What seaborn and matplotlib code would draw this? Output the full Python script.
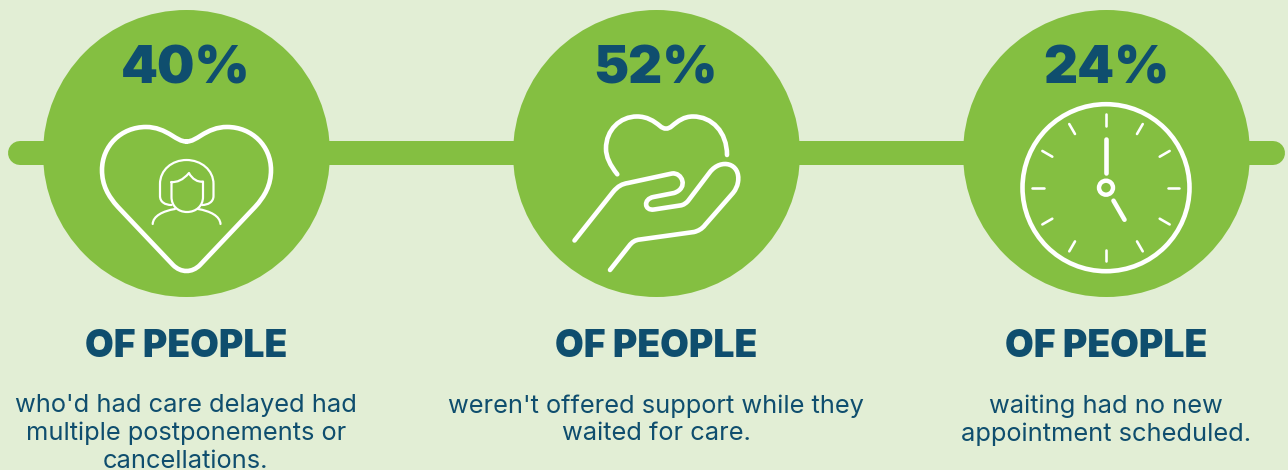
import numpy as np
import pandas as pd
import seaborn as sns
import matplotlib.pyplot as plt
from matplotlib.path import Path
from matplotlib.patches import PathPatch, Circle

percents = [40, 52, 24]
headings = ["OF PEOPLE", "OF PEOPLE", "OF PEOPLE"]
captions = [
    "who'd had care delayed had\nmultiple postponements or\ncancellations.",
    "weren't offered support while they\nwaited for care.",
    "waiting had no new\nappointment scheduled.",
]

GREEN = "#84BF41"
BG = "#E2EED5"
NAVY = "#0F4E6E"
PX = 0.72  # one pixel in points at dpi 100

centers = [186, 656, 1106]
mid_y = 153

sns.set_theme(style="white")
plt.rcParams["font.family"] = ["Inter", "DejaVu Sans"]

fig = plt.figure(figsize=(12.88, 4.7), dpi=100, facecolor=BG)
ax = fig.add_axes([0, 0, 1, 1])
ax.set_facecolor(BG)

df = pd.DataFrame({"x": centers, "y": [mid_y] * 3, "pct": percents})

# connector bar and the three discs
sns.lineplot(x=[20, 1273], y=[mid_y, mid_y], color=GREEN, lw=24 * PX,
             solid_capstyle="round", estimator=None, errorbar=None, ax=ax, zorder=1)
sns.scatterplot(data=df, x="x", y="y", s=(287 * PX) ** 2, color=GREEN,
                linewidth=0, ax=ax, zorder=2, legend=False)

ax.set_xlim(0, 1288)
ax.set_ylim(470, 0)
ax.axis("off")


def stroke(segments, lw, closed=False):
    # segments: start point, then 1 point = line, 3 points = bezier
    verts = [segments[0]]
    codes = [Path.MOVETO]
    for seg in segments[1:]:
        if len(seg) == 2 and not isinstance(seg[0], tuple):
            verts.append(seg)
            codes.append(Path.LINETO)
        else:
            verts.extend(seg)
            codes.extend([Path.CURVE4] * 3)
    ax.add_patch(PathPatch(Path(verts, codes), fc="none", ec="white", lw=lw * PX,
                           capstyle="round", joinstyle="round", zorder=3))


# heart with person
stroke([(186.5, 141.5),
        ((181, 141.5), (177, 138.5), (172, 135.5)),
        ((164, 130.5), (156, 127), (146, 127)),
        ((121, 127), (102, 146), (102, 170)),
        ((102, 185), (108, 196), (118, 207)),
        (173, 265),
        ((181, 273), (192, 273), (200, 265)),
        (255, 207),
        ((265, 196), (271, 185), (271, 170)),
        ((271, 146), (252, 127), (227, 127)),
        ((217, 127), (209, 130.5), (201, 135.5)),
        ((196, 138.5), (192, 141.5), (186.5, 141.5))], 4.6)
stroke([(171.5, 205),
        ((165, 205), (160, 202), (160, 196)),
        (160, 184),
        ((160, 170), (172, 160), (186.5, 160)),
        ((201, 160), (213.5, 170), (213.5, 184)),
        (213.5, 196),
        ((213.5, 202), (208, 205), (202, 205))], 2.2)
stroke([(171.5, 182),
        ((177, 182.5), (183, 180), (189, 173)),
        ((192, 179), (198, 182.5), (203, 181.5)),
        (203, 197),
        ((203, 206), (196, 212), (187, 212)),
        ((178, 212), (171.5, 206), (171.5, 197)),
        (171.5, 182)], 2.2)
stroke([(152.7, 224), ((153, 216), (163, 211), (175, 209))], 2.2)
stroke([(220.5, 224), ((220, 216), (210, 211), (198, 209))], 2.2)

# open heart over the hand
stroke([(617.3, 174.3),
        ((610, 165), (606, 157), (606, 148.5)),
        ((606, 130), (620, 116.5), (637, 116.5)),
        ((647, 116.5), (654, 121), (660, 126)),
        ((664, 129.5), (668, 129.5), (672, 126)),
        ((678, 121), (684, 116.5), (693, 116.5)),
        ((712, 116.5), (727, 132), (727, 155))], 4.6)
stroke([(574.5, 240.5),
        (613, 192),
        ((618, 186), (622, 184), (628, 183)),
        (672, 173.5),
        ((682, 172), (689, 188), (674, 193)),
        (653.5, 197),
        ((643, 199), (644, 211), (654, 209.5)),
        (680, 205.5),
        ((684, 205), (686, 203), (688, 201)),
        (710, 172),
        ((721, 158), (741, 163), (738, 182)),
        ((737, 187), (736, 189), (733, 193)),
        (705, 225),
        ((702, 229), (698, 231), (694, 232)),
        (640, 239.5),
        ((635, 240), (632, 242), (629, 246)),
        (610, 270)], 4.6)

# clock
clock_x, clock_y = 1106, 187.7
ax.add_patch(Circle((clock_x, clock_y), 83.5, fc="none", ec="white", lw=4.6 * PX, zorder=3))
ax.add_patch(Circle((clock_x, clock_y), 7, fc="none", ec="white", lw=4.4 * PX, zorder=3))
for hour in range(12):
    a = np.radians(hour * 30)
    ax.plot([clock_x + 62 * np.sin(a), clock_x + 73.5 * np.sin(a)],
            [clock_y - 62 * np.cos(a), clock_y - 73.5 * np.cos(a)],
            color="white", lw=2.6 * PX, solid_capstyle="round", zorder=3)
ax.plot([clock_x, clock_x], [clock_y - 49, clock_y - 15], color="white",
        lw=4.6 * PX, solid_capstyle="round", zorder=3)
a = np.radians(150)
ax.plot([clock_x + 15 * np.sin(a), clock_x + 37 * np.sin(a)],
        [clock_y - 15 * np.cos(a), clock_y - 37 * np.cos(a)], color="white",
        lw=4.6 * PX, solid_capstyle="round", zorder=3)

# text
for cx, pct, head, cap in zip(centers, percents, headings, captions):
    ax.text(cx, 83.5, f"{pct}%", ha="center", va="baseline", fontsize=38,
            fontweight="black", color=NAVY, zorder=4)
    ax.text(cx, 357, head, ha="center", va="baseline", fontsize=26.8,
            fontweight="black", color=NAVY, zorder=4)
    ax.text(cx, 394, cap, ha="center", va="top", fontsize=18.3,
            color=NAVY, linespacing=1.25, zorder=4)

fig.savefig("out.png", dpi=100, facecolor=BG)
